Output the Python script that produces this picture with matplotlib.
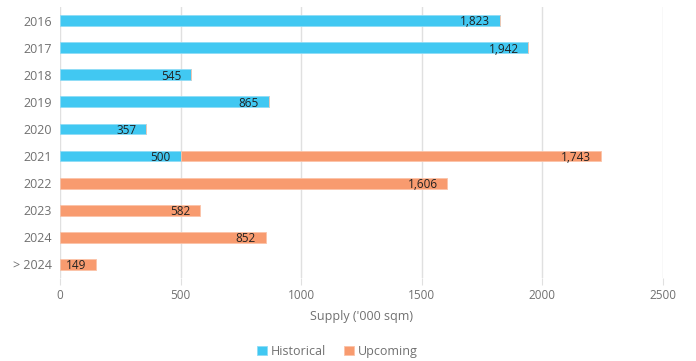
import matplotlib.pyplot as plt
import numpy as np

years = ["2016", "2017", "2018", "2019", "2020", "2021", "2022", "2023", "2024", "> 2024"]
historical = [1823, 1942, 545, 865, 357, 500, 0, 0, 0, 0]
upcoming = [0, 0, 0, 0, 0, 1743, 1606, 582, 852, 149]

BLUE = "#41C8F2"
ORANGE = "#F89B6F"
GREY = "#707070"
plt.rcParams["font.family"] = ["Open Sans", "DejaVu Sans"]

fig = plt.figure(figsize=(6.96, 3.61), dpi=100)
ax = fig.add_axes([0.0862, 0.23, 0.8664, 0.7506])

y = np.arange(len(years))
h = 0.4
ax.barh(y, historical, height=h, color=BLUE, edgecolor="#8fdcf6", linewidth=0.6, label="Historical")
ax.barh(y, upcoming, left=historical, height=h, color=ORANGE, edgecolor="#fbc3a8", linewidth=0.6, label="Upcoming")

# value labels at the inner end of each segment
for i in range(len(years)):
    if historical[i]:
        ax.annotate(f"{historical[i]:,}", (historical[i], y[i]), xytext=(-7, -1),
                    textcoords="offset points", ha="right", va="center", fontsize=8.5, color="#222222")
    if upcoming[i]:
        end = historical[i] + upcoming[i]
        ax.annotate(f"{upcoming[i]:,}", (end, y[i]), xytext=(-7, -1),
                    textcoords="offset points", ha="right", va="center", fontsize=8.5, color="#222222")

ax.set_ylim(len(years) - 0.5, -0.5)
ax.set_xlim(0, 2500)
ax.set_xticks([0, 500, 1000, 1500, 2000, 2500])
ax.set_yticks(y)
ax.set_yticklabels(years)

ax.grid(axis="x", color="#e0e0e0", linewidth=1)
ax.set_axisbelow(True)
for s in ax.spines.values():
    s.set_visible(False)
ax.tick_params(axis="x", colors="#e0e0e0", labelcolor=GREY, length=5, labelsize=8.5, pad=3)
ax.tick_params(axis="y", length=0, labelcolor=GREY, labelsize=9, pad=6)
ax.set_xlabel("Supply ('000 sqm)", color=GREY, fontsize=9, labelpad=6)

ax.legend(loc="upper center", bbox_to_anchor=(0.46, -0.205), ncol=2, frameon=False,
          fontsize=9, handlelength=0.8, handleheight=0.8, handletextpad=0.3,
          columnspacing=1.5, labelcolor=GREY)

fig.savefig("out.png", dpi=100)
